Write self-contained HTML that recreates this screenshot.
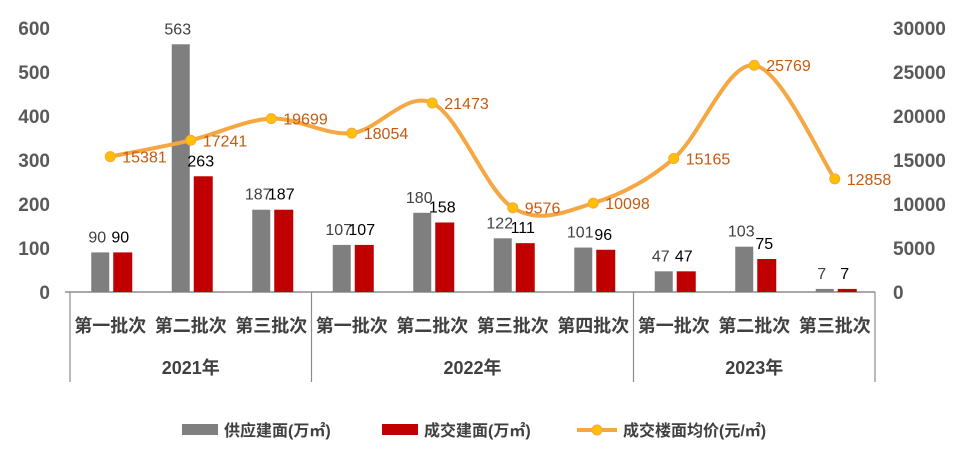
<!DOCTYPE html>
<html><head><meta charset="utf-8"><style>
body{margin:0;background:#fff;}
svg text{font-family:"Liberation Sans","Noto Sans CJK SC",sans-serif;}
</style></head><body>
<svg id="chart" width="961" height="454" viewBox="0 0 961 454" xmlns="http://www.w3.org/2000/svg"></svg>
<script>
const categories=["第一批次","第二批次","第三批次","第一批次","第二批次","第三批次","第四批次","第一批次","第二批次","第三批次"];
const years=["2021年","2022年","2023年"];
const yearCounts=[3,4,3];
const supply=[90,563,187,107,180,122,101,47,103,7];
const deal=[90,263,187,107,158,111,96,47,75,7];
const price=[15381,17241,19699,18054,21473,9576,10098,15165,25769,12858];
const leftTicks=[0,100,200,300,400,500,600];
const rightTicks=[0,5000,10000,15000,20000,25000,30000];

const NS="http://www.w3.org/2000/svg";
const svg=document.getElementById('chart');
const X0=70,X1=875,Y0=292,Y1=28;
const bw=(X1-X0)/categories.length;
const yL=v=>Y0-v/600*(Y0-Y1);
const yR=v=>Y0-v/30000*(Y0-Y1);
const xc=i=>X0+bw*(i+0.5);
function el(tag,attrs,txt){const e=document.createElementNS(NS,tag);for(const k in attrs)e.setAttribute(k,attrs[k]);if(txt!==undefined)e.textContent=txt;svg.appendChild(e);return e;}

leftTicks.forEach(t=>{const e=el('text',{x:50,y:yL(t)+7,'text-anchor':'end','font-size':19,'font-weight':'bold',fill:'#595959'},t);

});
rightTicks.forEach(t=>{const e=el('text',{x:893,y:yR(t)+7,'text-anchor':'start','font-size':19,'font-weight':'bold',fill:'#595959'},t);

});

// axis line
let ax=el('line',{x1:65,y1:Y0,x2:X1,y2:Y0,stroke:'#8c8c8c','stroke-width':1.5});



// bars
categories.forEach((c,i)=>{
  const cx=xc(i);
  let b=el('rect',{x:cx-19,y:yL(supply[i]),width:18,height:Y0-yL(supply[i]),fill:'#7f7f7f'});
  
  
  let r=el('rect',{x:cx+3,y:yL(deal[i]),width:19,height:Y0-yL(deal[i]),fill:'#c00000'});
  
  
  let t1=el('text',{x:cx-13,y:yL(supply[i])-10,'text-anchor':'middle','font-size':16,fill:'#404040'},supply[i]);
  
  
  let t2=el('text',{x:cx+10,y:yL(deal[i])-10,'text-anchor':'middle','font-size':16,fill:'#000'},deal[i]);
  
  
  let cl=el('text',{x:cx,y:332,'text-anchor':'middle','font-size':18,'font-weight':'bold',fill:'#404040'},c);
  
  
});

// year separators
let idx=0;
const sepXs=[X0];
yearCounts.forEach((n,k)=>{
  const xs=X0+bw*idx, xe=X0+bw*(idx+n);
  sepXs.push(xe);
  let yl=el('text',{x:(xs+xe)/2,y:374,'text-anchor':'middle','font-size':18,'font-weight':'bold',fill:'#404040'},years[k]);
  
  
  idx+=n;
});
sepXs.forEach(x=>{let s=el('line',{x1:x,y1:Y0,x2:x,y2:382,stroke:'#8c8c8c','stroke-width':1.2});

});

// smooth price line
const pts=price.map((v,i)=>[xc(i),yR(v)]);
let d=`M${pts[0][0]},${pts[0][1]}`;
for(let i=0;i<pts.length-1;i++){
  const p0=pts[Math.max(0,i-1)],p1=pts[i],p2=pts[i+1],p3=pts[Math.min(pts.length-1,i+2)];
  const c1=[p1[0]+(p2[0]-p0[0])/6,p1[1]+(p2[1]-p0[1])/6];
  const c2=[p2[0]-(p3[0]-p1[0])/6,p2[1]-(p3[1]-p1[1])/6];
  d+=` C${c1[0]},${c1[1]} ${c2[0]},${c2[1]} ${p2[0]},${p2[1]}`;
}
let ln=el('path',{d:d,fill:'none',stroke:'#f5a742','stroke-width':4});


pts.forEach((p,i)=>{
  let m=el('circle',{cx:p[0],cy:p[1],r:5,fill:'#ffc000',stroke:'#f5a742','stroke-width':1});
  
  
  let t=el('text',{x:p[0]+12,y:p[1]+6,'font-size':16,fill:'#c55a11'},price[i]);
  
  
});

// legend
let g1=el('rect',{x:182,y:424,width:36,height:11,fill:'#7f7f7f'});


let l1=el('text',{x:224,y:436,'font-size':16,'font-weight':'bold',fill:'#404040'},'供应建面(万㎡)');


let g2=el('rect',{x:382,y:424,width:36,height:11,fill:'#c00000'});


let l2=el('text',{x:424,y:436,'font-size':16,'font-weight':'bold',fill:'#404040'},'成交建面(万㎡)');


let g3=el('line',{x1:577,y1:430,x2:617,y2:430,stroke:'#f5a742','stroke-width':4});


let g4=el('circle',{cx:597,cy:430,r:5,fill:'#ffc000',stroke:'#f5a742'});


let l3=el('text',{x:623,y:436,'font-size':16,'font-weight':'bold',fill:'#404040'},'成交楼面均价(元/㎡)');


</script>
</body></html>
